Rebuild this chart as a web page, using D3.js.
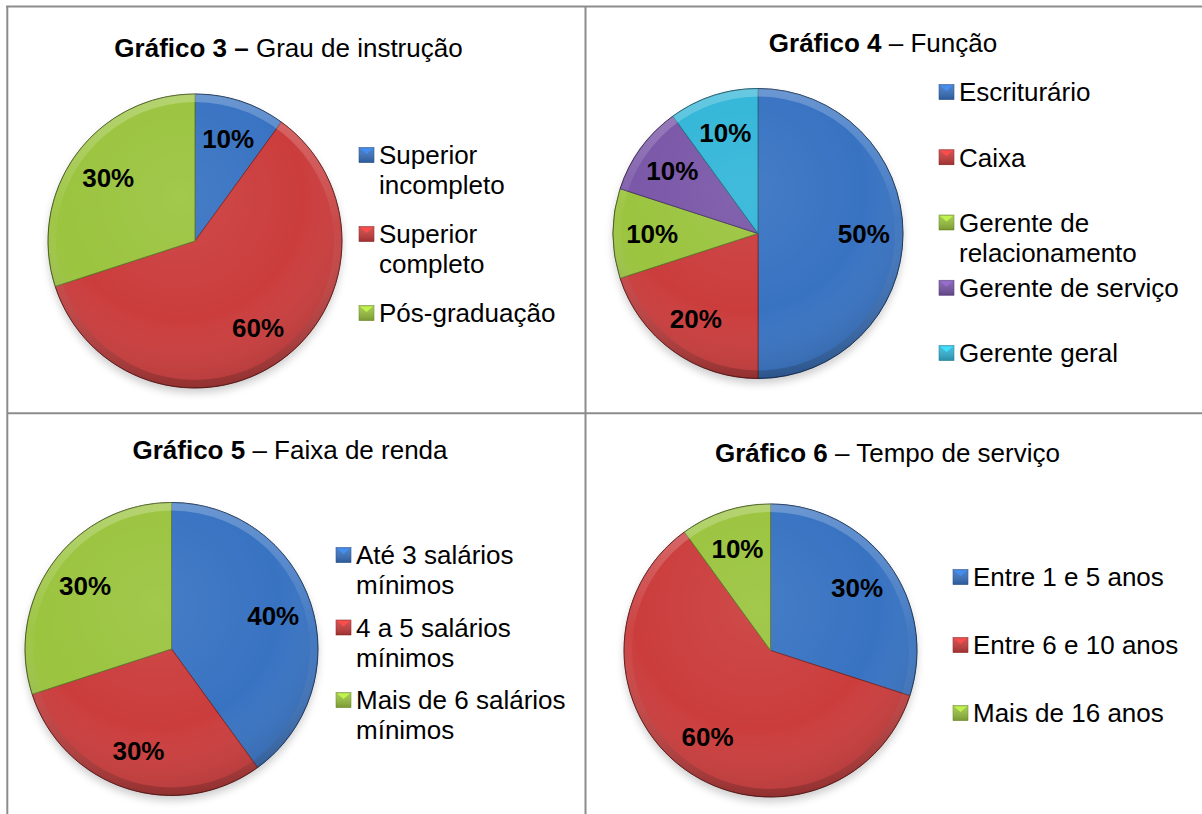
<!DOCTYPE html>
<html><head><meta charset="utf-8">
<script src="https://cdn.jsdelivr.net/npm/d3@7"></script>
<style>
body{margin:0;background:#fff}
svg{display:block}
text{font-family:"Liberation Sans", Arial, sans-serif;fill:#000}
</style>
</head><body>
<svg id="chart" width="1202" height="814"></svg>
<script>
// ---------- DATA ----------
const chart3Categories = ["Superior incompleto", "Superior completo", "Pós-graduação"];
const chart3Values = [10, 60, 30];
const chart3LegendLines = [["Superior", "incompleto"], ["Superior", "completo"], ["Pós-graduação"]];

const chart4Categories = ["Escriturário", "Caixa", "Gerente de relacionamento", "Gerente de serviço", "Gerente geral"];
const chart4Values = [50, 20, 10, 10, 10];
const chart4LegendLines = [["Escriturário"], ["Caixa"], ["Gerente de", "relacionamento"], ["Gerente de serviço"], ["Gerente geral"]];

const chart5Categories = ["Até 3 salários mínimos", "4 a 5 salários mínimos", "Mais de 6 salários mínimos"];
const chart5Values = [40, 30, 30];
const chart5LegendLines = [["Até 3 salários", "mínimos"], ["4 a 5 salários", "mínimos"], ["Mais de 6 salários", "mínimos"]];

const chart6Categories = ["Entre 1 e 5 anos", "Entre 6 e 10 anos", "Mais de 16 anos"];
const chart6Values = [30, 60, 10];
const chart6LegendLines = [["Entre 1 e 5 anos"], ["Entre 6 e 10 anos"], ["Mais de 16 anos"]];

const titleBold = ["Gráfico 3 –", "Gráfico 4", "Gráfico 5", "Gráfico 6"];
const titleRest = [" Grau de instrução", " – Função", " – Faixa de renda", " – Tempo de serviço"];

// ---------- STYLE / LAYOUT ----------
const palette = ["#3873C2", "#CB3D3D", "#9BC43F", "#7A57A8", "#33B6D8"];
const W = 1202, H = 814, FS = 26;

const layouts = [
  {titleX: 288.5, titleY: 57,  cx: 195,   cy: 241,   r: 147,   legX: 359, legY: [155, 313]},
  {titleX: 883,   titleY: 52,  cx: 758,   cy: 233.5, r: 145,   legX: 939, legY: [92, 353]},
  {titleX: 290,   titleY: 459, cx: 171.5, cy: 649,   r: 146.5, legX: 336, legY: [555, 700]},
  {titleX: 887.5, titleY: 462, cx: 770.5, cy: 650.5, r: 146.5, legX: 953, legY: [577, 713]}
];

const charts = [
  {cats: chart3Categories, vals: chart3Values, leg: chart3LegendLines},
  {cats: chart4Categories, vals: chart4Values, leg: chart4LegendLines},
  {cats: chart5Categories, vals: chart5Values, leg: chart5LegendLines},
  {cats: chart6Categories, vals: chart6Values, leg: chart6LegendLines}
];

const svg = d3.select("#chart");
const defs = svg.append("defs");

// shading overlay for the pie
const rg = defs.append("radialGradient").attr("id", "shade")
  .attr("cx", "0.45").attr("cy", "0.35").attr("r", "0.7");
rg.append("stop").attr("offset", "0%").attr("stop-color", "#fff").attr("stop-opacity", 0.07);
rg.append("stop").attr("offset", "60%").attr("stop-color", "#fff").attr("stop-opacity", 0.0);
rg.append("stop").attr("offset", "100%").attr("stop-color", "#000").attr("stop-opacity", 0.16);

const rim = defs.append("linearGradient").attr("id", "rim")
  .attr("x1", 0).attr("y1", 0).attr("x2", 0).attr("y2", 1);
rim.append("stop").attr("offset", "0%").attr("stop-color", "#fff").attr("stop-opacity", 0.25);
rim.append("stop").attr("offset", "45%").attr("stop-color", "#fff").attr("stop-opacity", 0.03);
rim.append("stop").attr("offset", "100%").attr("stop-color", "#000").attr("stop-opacity", 0.2);

const mk = defs.append("linearGradient").attr("id", "mk")
  .attr("x1", 0).attr("y1", 0).attr("x2", 0).attr("y2", 1);
mk.append("stop").attr("offset", "0%").attr("stop-color", "#fff").attr("stop-opacity", 0.1);
mk.append("stop").attr("offset", "100%").attr("stop-color", "#000").attr("stop-opacity", 0.22);

const shadow = defs.append("filter").attr("id", "blur")
  .attr("x", "-20%").attr("y", "-20%").attr("width", "140%").attr("height", "140%");
shadow.append("feGaussianBlur").attr("stdDeviation", 4);

// ---------- TABLE BORDERS ----------
const border = svg.append("g").attr("stroke", "#8c8c8c").attr("stroke-width", 2);
border.append("line").attr("x1", 6).attr("x2", W).attr("y1", 6.5).attr("y2", 6.5);
border.append("line").attr("x1", 7.3).attr("x2", 7.3).attr("y1", 6).attr("y2", H);
border.append("line").attr("x1", 585.5).attr("x2", 585.5).attr("y1", 6).attr("y2", H);
border.append("line").attr("x1", 7).attr("x2", W).attr("y1", 413.3).attr("y2", 413.3);

// ---------- CHARTS ----------
charts.forEach((c, i) => {
  const L = layouts[i];
  const g = svg.append("g");

  // title
  const t = g.append("text").attr("x", L.titleX).attr("y", L.titleY)
    .attr("text-anchor", "middle").style("font-size", FS + "px");
  t.append("tspan").attr("font-weight", "bold").text(titleBold[i]);
  t.append("tspan").text(titleRest[i]);

  const color = d3.scaleOrdinal().domain(c.cats).range(palette);
  const pie = d3.pie().sort(null).value(d => d.value);
  const data = pie(c.cats.map((k, j) => ({key: k, value: c.vals[j]})));
  const arc = d3.arc().innerRadius(0).outerRadius(L.r);
  const rimArc = d3.arc().innerRadius(L.r - 8).outerRadius(L.r);
  const lblArc = d3.arc().innerRadius(L.r * 0.73).outerRadius(L.r * 0.73);

  const pg = g.append("g").attr("transform", `translate(${L.cx},${L.cy})`);

  pg.append("circle").attr("cx", 0).attr("cy", 5).attr("r", L.r)
    .attr("fill", "#000").attr("opacity", 0.2).attr("filter", "url(#blur)");

  pg.selectAll("path.slice").data(data).join("path").attr("class", "slice")
    .attr("d", arc).attr("fill", d => color(d.data.key))
    .attr("stroke", d => d3.color(color(d.data.key)).darker(1.3))
    .attr("stroke-width", 1).attr("stroke-linejoin", "round");

  pg.append("circle").attr("r", L.r).attr("fill", "url(#shade)").attr("pointer-events", "none");
  pg.append("path").attr("d", rimArc({startAngle: 0, endAngle: 2 * Math.PI}))
    .attr("fill", "url(#rim)").attr("pointer-events", "none");
  pg.append("circle").attr("r", L.r).attr("fill", "none")
    .attr("stroke", "rgba(0,0,0,0.25)").attr("stroke-width", 1);

  pg.selectAll("text.lbl").data(data).join("text").attr("class", "lbl")
    .attr("transform", d => `translate(${lblArc.centroid(d)})`)
    .attr("text-anchor", "middle").attr("dy", "0.35em")
    .attr("font-weight", "bold").style("font-size", FS + "px")
    .text(d => Math.round(d.data.value) + "%");

  // legend
  const ly = d3.scalePoint().domain(c.cats).range(L.legY);
  const lg = g.append("g");
  c.cats.forEach((k, j) => {
    const y = ly(k);
    const col = color(k);
    lg.append("rect").attr("x", L.legX).attr("y", y - 7.5).attr("width", 15).attr("height", 15)
      .attr("fill", col).attr("stroke", d3.color(col).darker(0.8)).attr("stroke-width", 0.6);
    lg.append("rect").attr("x", L.legX).attr("y", y - 7.5).attr("width", 15).attr("height", 15)
      .attr("fill", "url(#mk)");
    lg.append("polygon")
      .attr("points", `${L.legX + 1},${y - 6.5} ${L.legX + 14},${y - 6.5} ${L.legX + 7.5},${y - 1}`)
      .attr("fill", d3.color(col).brighter(0.6));
    const tx = lg.append("text").attr("x", L.legX + 20).attr("y", y + 9.3).style("font-size", FS + "px");
    c.leg[j].forEach((line, n) => {
      tx.append("tspan").attr("x", L.legX + 20).attr("dy", n === 0 ? 0 : 30).text(line);
    });
  });
});
</script>
</body></html>
